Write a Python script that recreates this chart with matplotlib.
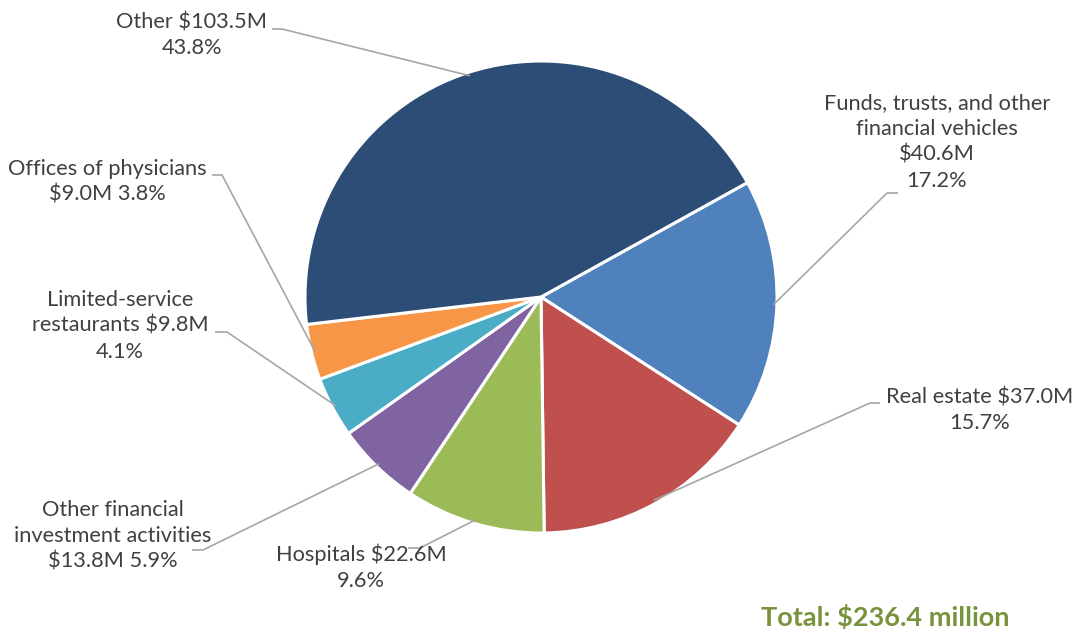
import numpy as np
import matplotlib
matplotlib.use("Agg")
import matplotlib.pyplot as plt

# Industry breakdown, $ millions (clockwise from the "Funds" slice)
categories = [
    "Funds, trusts, and other financial vehicles",
    "Real estate",
    "Hospitals",
    "Other financial investment activities",
    "Limited-service restaurants",
    "Offices of physicians",
    "Other",
]
values = [40.6, 37.0, 22.6, 13.8, 9.8, 9.0, 103.5]
percents = [17.2, 15.7, 9.6, 5.9, 4.1, 3.8, 43.8]
label_text = [
    "Funds, trusts, and other\nfinancial vehicles\n${v:.1f}M\n{p:.1f}%",
    "Real estate ${v:.1f}M\n{p:.1f}%",
    "Hospitals ${v:.1f}M\n{p:.1f}%",
    "Other financial\ninvestment activities\n${v:.1f}M {p:.1f}%",
    "Limited-service\nrestaurants ${v:.1f}M\n{p:.1f}%",
    "Offices of physicians\n${v:.1f}M {p:.1f}%",
    "Other ${v:.1f}M\n{p:.1f}%",
]
total_text = "Total: $236.4 million"

colors = ["#4F81BD", "#C0504D", "#9BBB59", "#8064A2", "#4BACC6", "#F79646", "#2C4D75"]

W, H = 1078, 629
CX, CY, R = 541, 297, 236

# label layout: text centre, elbow of leader, end of leader (pixel space, y down)
label_pos = [(937, 142), (980, 410), (361, 567), (113, 536), (120, 326), (107, 182), (192, 35)]
elbows = [(887, 193), (870, 403), (420, 548), (203, 550), (227, 332), (222, 175), (282, 29)]
ends = [(898, 193), (880, 403), (408, 548), (192, 550), (215, 332), (212, 175), (272, 29)]

plt.rcParams["font.family"] = ["Lato", "DejaVu Sans"]

fig = plt.figure(figsize=(W / 100, H / 100), dpi=100)
ax = fig.add_axes([0, 0, 1, 1])


def fy(y):
    return H - y


wedges, _ = ax.pie(
    values,
    colors=colors,
    startangle=29,
    counterclock=False,
    center=(CX, fy(CY)),
    radius=R,
    wedgeprops=dict(edgecolor="white", linewidth=2.2),
    frame=True,
)
ax.set_xlim(0, W)
ax.set_ylim(0, H)
ax.axis("off")

text_color = "#404040"
line_color = "#A6A6A6"

for w, v, p, fmt, (tx, ty), (ex, ey), (hx, hy) in zip(
        wedges, values, percents, label_text, label_pos, elbows, ends):
    mid = np.deg2rad((w.theta1 + w.theta2) / 2)
    r = R * 0.985
    ax_x = CX + r * np.cos(mid)
    ax_y = fy(CY) + r * np.sin(mid)
    ax.plot([ax_x, ex, hx], [ax_y, fy(ey), fy(hy)], color=line_color, lw=1.2,
            solid_capstyle="butt", zorder=3)
    ax.text(tx, fy(ty), fmt.format(v=v, p=p), ha="center", va="center",
            fontsize=15.7, color=text_color, linespacing=1.36, zorder=4)

ax.text(885, fy(617), total_text, ha="center", va="center", fontsize=19.5,
        fontweight="bold", color="#77933C")

fig.savefig("out.png", dpi=100)
